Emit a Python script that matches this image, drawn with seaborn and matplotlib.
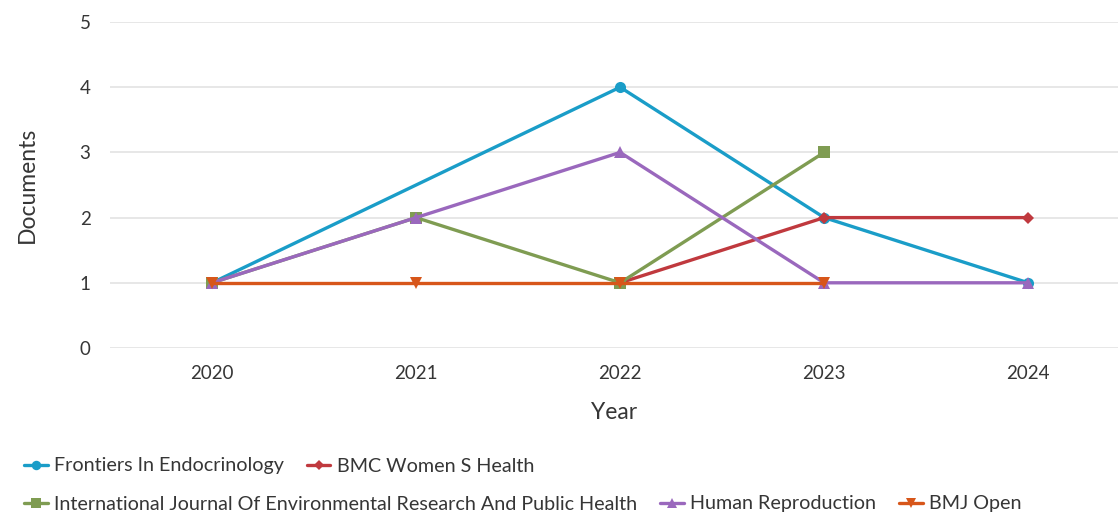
import matplotlib
matplotlib.use("Agg")
import matplotlib.pyplot as plt
import seaborn as sns
import pandas as pd
from matplotlib.lines import Line2D

years = [2020, 2021, 2022, 2023, 2024]
sources = [
    "Frontiers In Endocrinology",
    "BMC Women S Health",
    "International Journal Of Environmental Research And Public Health",
    "Human Reproduction",
    "BMJ Open",
]
# documents per year (None = no documents recorded that year)
frontiers = [1, None, 4, 2, 1]
bmc_womens = [None, None, 1, 2, 2]
ijerph = [1, 2, 1, 3, None]
human_repro = [1, 2, 3, 1, 1]
bmj_open = [1, 1, 1, 1, None]

colors = ["#1a9dc8", "#c0393e", "#7f9c52", "#9a68bd", "#d7561a"]
markers = ["o", "D", "s", "^", "v"]
msizes = [8, 6.5, 8, 9, 9]

series = [frontiers, bmc_womens, ijerph, human_repro, bmj_open]
rows = []
for name, vals in zip(sources, series):
    for y, v in zip(years, vals):
        if v is not None:
            rows.append({"Year": y, "Documents": v, "Source": name})
df = pd.DataFrame(rows)

sns.set_theme(style="white")
plt.rcParams["font.family"] = ["Lato", "DejaVu Sans"]
text_color = "#363636"

fig = plt.figure(figsize=(11.18, 5.15), dpi=100)
ax = fig.add_axes([110 / 1118, 1 - 348 / 515, 1 - 110 / 1118, (348 - 22) / 515])

for name, col, mk, ms in zip(sources, colors, markers, msizes):
    sub = df[df["Source"] == name]
    sns.lineplot(data=sub, x="Year", y="Documents", color=col, marker=mk,
                 markersize=ms, markeredgewidth=0, linewidth=2.4, ax=ax,
                 legend=False, clip_on=False, zorder=3)

ax.set_xlim(2019.5, 2024.44)
ax.set_ylim(0, 5)
ax.set_xticks(years)
ax.set_yticks(range(0, 6))
ax.grid(axis="y", color="#e3e3e3", linewidth=1.2)
ax.grid(axis="x", visible=False)
for s in ax.spines.values():
    s.set_visible(False)
ax.tick_params(axis="both", length=0, labelsize=13.5, labelcolor=text_color)
ax.tick_params(axis="x", pad=12)
ax.tick_params(axis="y", pad=14)
ax.set_xlabel("Year", fontsize=16.5, color=text_color, labelpad=15)
ax.set_ylabel("Documents", fontsize=16.5, color=text_color, labelpad=30)

handles = [Line2D([0], [0], color=c, marker=m, markersize=ms * 0.85,
                  markeredgewidth=0, linewidth=2.4)
           for c, m, ms in zip(colors, markers, msizes)]

leg_kw = dict(frameon=False, fontsize=14.25, handlelength=1.2, handletextpad=0.32,
              columnspacing=1.15, labelcolor=text_color, borderaxespad=0,
              borderpad=0)
leg1 = fig.legend(handles[:2], sources[:2], ncol=2, loc="center left",
                  bbox_to_anchor=(24 / 1118, 1 - 466 / 515), **leg_kw)
leg2 = fig.legend(handles[2:], sources[2:], ncol=3, loc="center left",
                  bbox_to_anchor=(24 / 1118, 1 - 504 / 515), **leg_kw)

fig.savefig("out.png", dpi=100)
